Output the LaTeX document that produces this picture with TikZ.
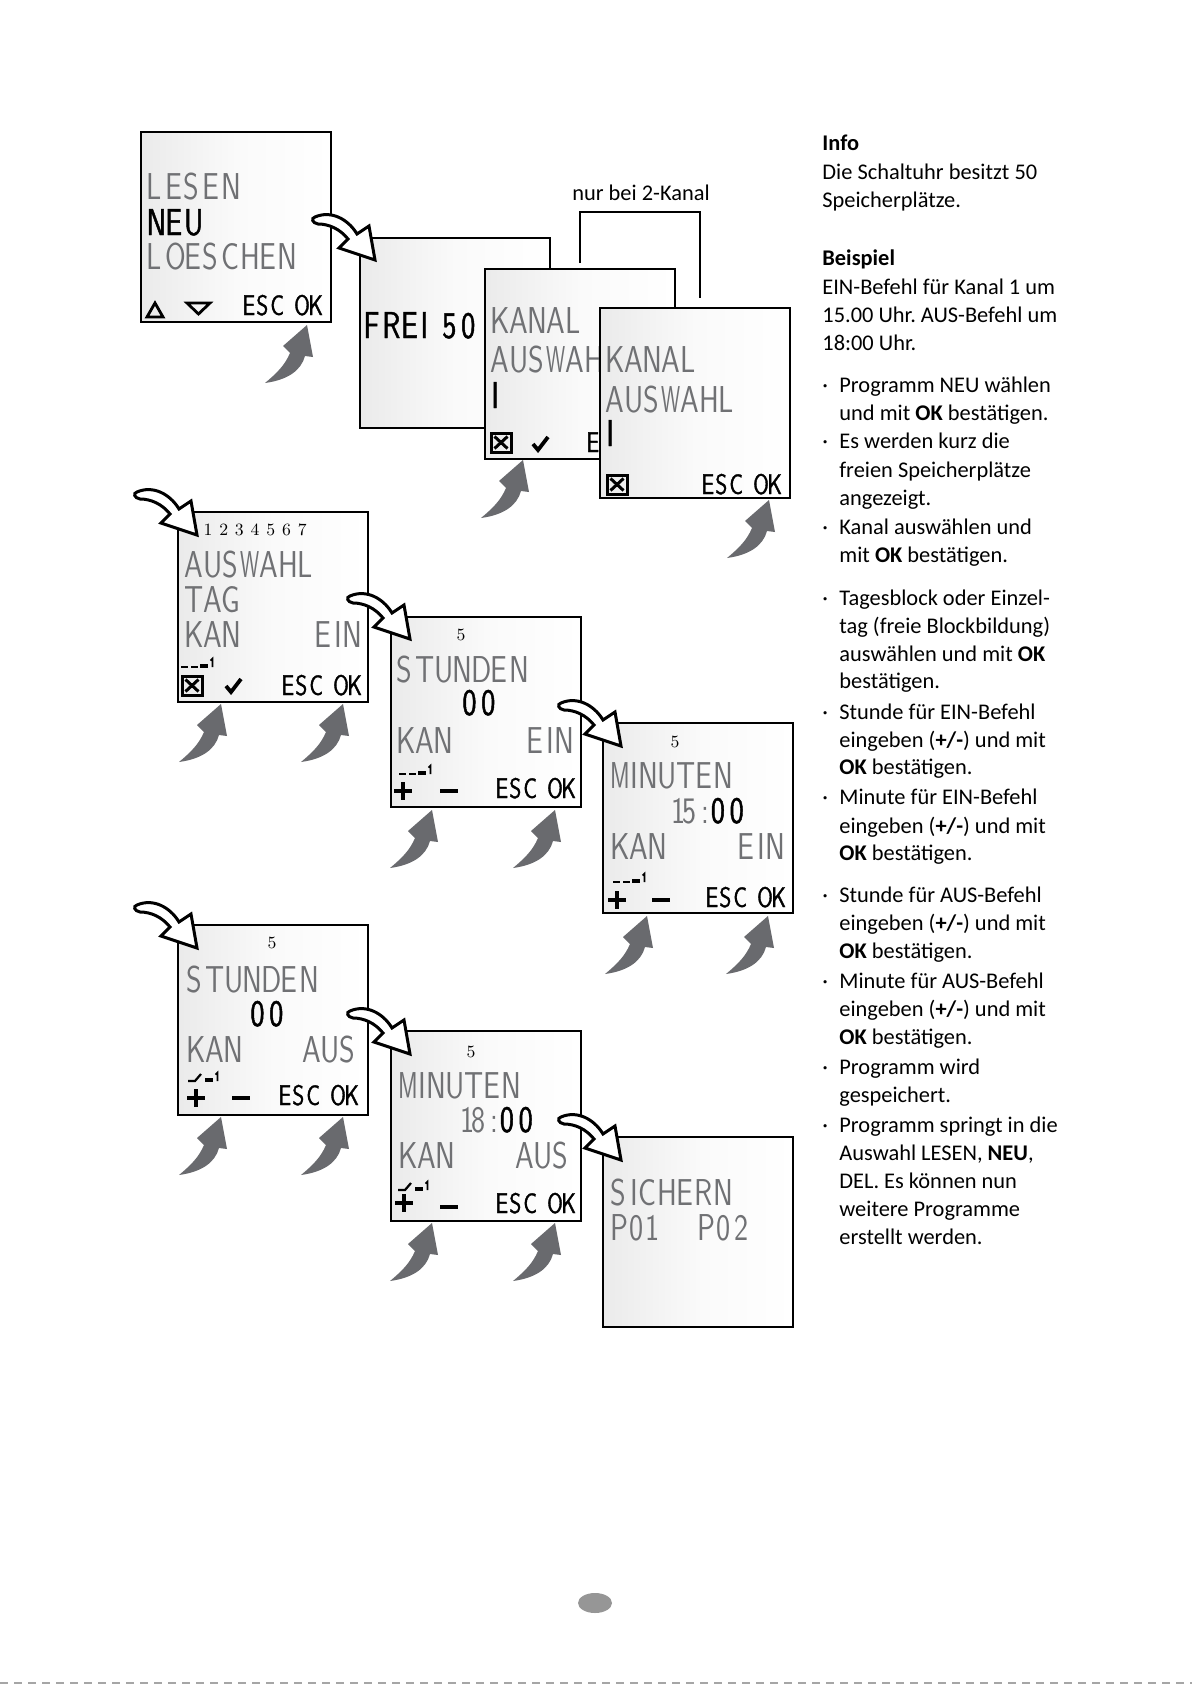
\documentclass[tikz,border=0pt]{standalone}
\usepackage{fontspec}
\usepackage{graphicx}
\setmainfont{Carlito}
\newfontfamily\lcdfont[FakeStretch=0.8]{Latin Modern Sans}
\newfontfamily\lcdbfont[FakeStretch=0.8, FakeBold=1.2]{Latin Modern Sans}
\newfontfamily\digfont{Latin Modern Roman}
\usetikzlibrary{calc}
\definecolor{lcdgray}{RGB}{112,113,116}
\definecolor{arrgray}{RGB}{105,106,110}
\definecolor{pagegray}{RGB}{150,150,150}
\newcommand\lcdsp{}
\ExplSyntaxOn
\dim_new:N \l_lcdcell_dim
\NewDocumentCommand\lcdset{mm}{
  \dim_set:Nn \l_lcdcell_dim {#1}
  \tl_map_inline:nn {#2}{
    \str_case:nnF {##1}{
      {I}{\makebox[0.5\l_lcdcell_dim][c]{##1}}
      {1}{\makebox[0.5\l_lcdcell_dim][c]{##1}}
      {:}{\makebox[0.45\l_lcdcell_dim][l]{##1}}
      {W}{\makebox[\l_lcdcell_dim][l]{\scalebox{0.72}[1]{##1}}}
      {M}{\makebox[\l_lcdcell_dim][l]{\scalebox{0.8}[1]{##1}}}
      {\lcdsp}{\hspace*{0.7\l_lcdcell_dim}}
    }{\makebox[\l_lcdcell_dim][l]{##1}}
  }
}
\ExplSyntaxOff
\newcommand\lcdbig[1]{\lcdset{9.4pt}{#1}}
\newcommand\lcdsmall[1]{\lcdset{7pt}{#1}}
\tikzset{
  lcd/.style={draw=black, line width=0.7pt, minimum width=95pt, minimum height=95pt,
    inner sep=0pt, outer sep=0pt, anchor=north west,
    left color=black!8, right color=white, middle color=black!2},
  big/.style={font=\lcdfont\fontsize{18.7}{18.7}\selectfont, text=lcdgray, inner sep=0pt, anchor=base west},
  bigk/.style={big, font=\lcdbfont\fontsize{18.7}{18.7}\selectfont, text=black},
  bige/.style={big, anchor=base east},
  small/.style={font=\lcdbfont\fontsize{14.2}{14.2}\selectfont, text=black, inner sep=0pt, anchor=base west},
  day/.style={font=\digfont\fontsize{8.6}{8.6}\selectfont, inner sep=0pt, anchor=base},
  txt/.style={font=\fontsize{11.2}{14}\selectfont, inner sep=0pt, anchor=base west},
  sym/.style={line width=1.4pt, line join=miter},
  harrow/.pic={\draw[line width=1.5pt, line join=miter, fill=white]
      (-60,-43) .. controls (-44,-50) and (-27,-41) .. (-18,-26) -- (-6,-34) -- (0,0)
      -- (-36,-12) -- (-27,-21) .. controls (-35,-31) and (-46,-36) .. (-57,-36)
      .. controls (-63,-37) and (-64,-42) .. (-60,-43) -- cycle;},
  garrow/.pic={\fill[arrgray] (0,0) -- (6,32) -- (-2,31) .. controls (-6,46) and (-20,55) .. (-42,58)
      .. controls (-30,48) and (-22,40) .. (-17,28) -- (-24,21) -- cycle;},
  xbox/.pic={\draw[line width=1.5pt] (0,0) rectangle (20,19);
      \draw[line width=1.5pt] (3.5,3.5) -- (16.5,15.5) (16.5,3.5) -- (3.5,15.5);},
  check/.pic={\draw[line width=1.9pt, line join=miter] (0,7) -- (5,13) -- (15,0);},
  plussym/.pic={\draw[line width=2pt] (0,9) -- (18,9) (9,0) -- (9,18);},
  minussym/.pic={\draw[line width=2pt] (0,0) -- (18,0);},
  einsw/.pic={\draw[line width=1.1pt] (0,9) -- (7,9) (10,9) -- (17,9);
      \fill (19,5.5) rectangle (27,10);
      \draw[line width=0.8pt] (29.5,2.5) -- (31.5,0.5) -- (31.5,9);},
  aussw/.pic={\draw[line width=1.1pt] (0,9) -- (7,9) -- (13,2);
      \fill (17,5.5) rectangle (25,10);
      \draw[line width=0.8pt] (27.5,2.5) -- (29.5,0.5) -- (29.5,9);},
}
\newcommand\txtline[3]{\node[txt] (#1) at (822,#2) {#3};}
\newcommand\bulline[3]{\node[txt] (#1d) at (822,#2) {·}; \node[txt] (#1) at (839,#2) {#3};}
\newcommand\contline[3]{\node[txt] (#1) at (839,#2) {#3};}
\frenchspacing
\begin{document}
\begin{tikzpicture}[x=0.5pt, y=-0.5pt]
\fill[white] (0,0) rectangle (1192,1685);
\useasboundingbox (0,0) rectangle (1192,1685);

% ---------- screens ----------
\node[lcd] (b1) at (141,132) {};
\node[lcd] (b2) at (360,238) {};
\begin{scope}[shift={(b1.north west)}]
  \node[big] (l1a) at (5,67) {\lcdbig{LESEN}};
  \node[bigk] (l1b) at (5,103) {\lcdbig{NEU}};
  \node[big] (l1c) at (5,138) {\lcdbig{LOESCHEN}};
  \draw[sym] (6,185) -- (22,185) -- (14,171) -- cycle;
  \draw[sym] (46,171) -- (69,171) -- (57.5,182) -- cycle;
  \node[small] (l1d) at (101,183) {\lcdsmall{ESC\lcdsp OK}};
\end{scope}
\begin{scope}[shift={(b2.north west)}]
  \node[bigk] (l2a) at (3,100) {\lcdbig{FREI\lcdsp 50}};
\end{scope}

\node[lcd] (b3) at (485,269) {};
\begin{scope}[shift={(b3.north west)}]
  \node[big] (l3a) at (5,64) {\lcdbig{KANAL}};
  \node[big] (l3b) at (5,103) {\lcdbig{AUSWAHL}};
  \node[bigk] (l3c) at (5,139) {\lcdbig{I}};
  \pic at (6,164) {xbox};
  \pic at (48,168) {check};
  \node[small] (l3d) at (101,183) {\lcdsmall{ESC\lcdsp OK}};
\end{scope}

\node[lcd] (b4) at (600,308) {};
\begin{scope}[shift={(b4.north west)}]
  \node[big] (l4a) at (5,64) {\lcdbig{KANAL}};
  \node[big] (l4b) at (5,104) {\lcdbig{AUSWAHL}};
  \node[bigk] (l4c) at (5,138) {\lcdbig{I}};
  \pic at (7,167) {xbox};
  \node[small] (l4d) at (101,186) {\lcdsmall{ESC\lcdsp OK}};
\end{scope}

\node[lcd] (b5) at (178,512) {};
\begin{scope}[shift={(b5.north west)}]
  \foreach \d [count=\i from 0] in {1,...,7}
    \node[day] (d5\d) at (30+15.7*\i,23) {\d};
  \node[big] (l5a) at (6,65) {\lcdbig{AUSWAHL}};
  \node[big] (l5b) at (6,100) {\lcdbig{TAG}};
  \node[big] (l5c) at (6,135) {\lcdbig{KAN}};
  \node[bige] (l5d) at (184,135) {\lcdbig{EIN}};
  \pic at (3,146) {einsw};
  \pic at (4,164) {xbox};
  \pic at (48,167) {check};
  \node[small] (l5e) at (103,183) {\lcdsmall{ESC\lcdsp OK}};
\end{scope}

\node[lcd] (b6) at (391,617) {};
\begin{scope}[shift={(b6.north west)}]
  \node[day] (d6) at (70,23) {5};
  \node[big] (l6a) at (5,65) {\lcdbig{STUNDEN}};
  \node[bigk] (l6b) at (71,98) {\lcdbig{00}};
  \node[big] (l6c) at (5,136) {\lcdbig{KAN}};
  \node[bige] (l6d) at (183,136) {\lcdbig{EIN}};
  \pic at (8,148) {einsw};
  \pic at (3,165) {plussym};
  \pic at (49,174) {minussym};
  \node[small] (l6e) at (104,181) {\lcdsmall{ESC\lcdsp OK}};
\end{scope}

\node[lcd] (b7) at (603,723) {};
\begin{scope}[shift={(b7.north west)}]
  \node[day] (d7) at (72,24) {5};
  \node[big] (l7a) at (7,65) {\lcdbig{MINUTEN}};
  \node[big] (l7b) at (70,100) {\lcdbig{15:}};
  \node[bigk] (l7c) at (l7b.base east) {\lcdbig{00}};
  \node[big] (l7d) at (7,136) {\lcdbig{KAN}};
  \node[bige] (l7e) at (182,136) {\lcdbig{EIN}};
  \pic at (10,150) {einsw};
  \pic at (5,168) {plussym};
  \pic at (49,177) {minussym};
  \node[small] (l7f) at (102,184) {\lcdsmall{ESC\lcdsp OK}};
\end{scope}

\node[lcd] (b8) at (178,925) {};
\begin{scope}[shift={(b8.north west)}]
  \node[day] (d8) at (94,23) {5};
  \node[big] (l8a) at (8,67) {\lcdbig{STUNDEN}};
  \node[bigk] (l8b) at (72,101) {\lcdbig{00}};
  \node[big] (l8c) at (8,137) {\lcdbig{KAN}};
  \node[bige] (l8d) at (181,137) {\lcdbig{AUS}};
  \pic at (10,147) {aussw};
  \pic at (9,164) {plussym};
  \pic at (54,173) {minussym};
  \node[small] (l8e) at (100,180) {\lcdsmall{ESC\lcdsp OK}};
\end{scope}

\node[lcd] (b9) at (391,1031) {};
\begin{scope}[shift={(b9.north west)}]
  \node[day] (d9) at (80,26) {5};
  \node[big] (l9a) at (7,67) {\lcdbig{MINUTEN}};
  \node[big] (l9b) at (71,101) {\lcdbig{18:}};
  \node[bigk] (l9c) at (l9b.base east) {\lcdbig{00}};
  \node[big] (l9d) at (7,137) {\lcdbig{KAN}};
  \node[bige] (l9e) at (181,137) {\lcdbig{AUS}};
  \pic at (7,150) {aussw};
  \pic at (4,163) {plussym};
  \pic at (49,176) {minussym};
  \node[small] (l9f) at (104,182) {\lcdsmall{ESC\lcdsp OK}};
\end{scope}

\node[lcd] (b10) at (603,1137) {};
\begin{scope}[shift={(b10.north west)}]
  \node[big] (l10a) at (7,68) {\lcdbig{SICHERN}};
  \node[big] (l10b) at (7,103) {\lcdbig{P01}};
  \node[big] (l10c) at (94,103) {\lcdbig{P02}};
\end{scope}

% ---------- bracket ----------
\node[txt, anchor=base] (kan2) at (641,201) {nur bei 2-Kanal};
\draw[line width=0.6pt] ($(b3.north)+(0,-6)$) -- ($(b3.north)+(0,-57)$) -| ($(b4.north)+(5,-10)$);

% ---------- transition arrows ----------
\pic at ($(b2.north west)+(15,22)$) {harrow};
\pic at ($(b5.north west)+(19,23)$) {harrow};
\pic at ($(b6.north west)+(19,22)$) {harrow};
\pic at ($(b7.north west)+(18,23)$) {harrow};
\pic at ($(b8.north west)+(19,23)$) {harrow};
\pic at ($(b9.north west)+(19,23)$) {harrow};
\pic at ($(b10.north west)+(18,23)$) {harrow};

% ---------- key press arrows ----------
\pic at ($(b1.north west)+(166,193)$) {garrow};
\pic at ($(b3.north west)+(38,191)$) {garrow};
\pic at ($(b4.north west)+(169,192)$) {garrow};
\pic at ($(b5.north west)+(43,192)$) {garrow};
\pic at ($(b5.north west)+(165,192)$) {garrow};
\pic at ($(b6.north west)+(41,193)$) {garrow};
\pic at ($(b6.north west)+(164,193)$) {garrow};
\pic at ($(b7.north west)+(44,193)$) {garrow};
\pic at ($(b7.north west)+(165,193)$) {garrow};
\pic at ($(b8.north west)+(43,192)$) {garrow};
\pic at ($(b8.north west)+(165,192)$) {garrow};
\pic at ($(b9.north west)+(41,192)$) {garrow};
\pic at ($(b9.north west)+(164,192)$) {garrow};

% ---------- text column ----------
\txtline{t1}{151}{\textbf{Info}}
\txtline{t2}{180}{Die Schaltuhr besitzt 50}
\txtline{t3}{208}{Speicherplätze.}
\txtline{t4}{265}{\textbf{Beispiel}}
\txtline{t5}{294}{EIN-Befehl für Kanal 1 um}
\txtline{t6}{322}{15.00 Uhr. AUS-Befehl um}
\txtline{t7}{350}{18:00 Uhr.}
\bulline{t8}{392}{Programm NEU wählen}
\contline{t9}{420}{und mit \textbf{OK} bestätigen.}
\bulline{t10}{448}{Es werden kurz die}
\contline{t11}{477}{freien Speicherplätze}
\contline{t12}{505}{angezeigt.}
\bulline{t13}{534}{Kanal auswählen und}
\contline{t14}{562}{mit \textbf{OK} bestätigen.}
\bulline{t15}{605}{Tagesblock oder Einzel-}
\contline{t16}{633}{tag (freie Blockbildung)}
\contline{t17}{661}{auswählen und mit \textbf{OK}}
\contline{t18}{688}{bestätigen.}
\bulline{t19}{719}{Stunde für EIN-Befehl}
\contline{t20}{747}{eingeben (\textbf{+/-}) und mit}
\contline{t21}{774}{\textbf{OK} bestätigen.}
\bulline{t22}{804}{Minute für EIN-Befehl}
\contline{t23}{833}{eingeben (\textbf{+/-}) und mit}
\contline{t24}{860}{\textbf{OK} bestätigen.}
\bulline{t25}{902}{Stunde für AUS-Befehl}
\contline{t26}{930}{eingeben (\textbf{+/-}) und mit}
\contline{t27}{958}{\textbf{OK} bestätigen.}
\bulline{t28}{988}{Minute für AUS-Befehl}
\contline{t29}{1016}{eingeben (\textbf{+/-}) und mit}
\contline{t30}{1044}{\textbf{OK} bestätigen.}
\bulline{t31}{1074}{Programm wird}
\contline{t32}{1102}{gespeichert.}
\bulline{t33}{1132}{Programm springt in die}
\contline{t34}{1160}{Auswahl LESEN, \textbf{NEU},}
\contline{t35}{1188}{DEL. Es können nun}
\contline{t36}{1216}{weitere Programme}
\contline{t37}{1244}{erstellt werden.}

% ---------- page marker ----------
\fill[pagegray] (595,1603) ellipse [x radius=17, y radius=10];
\draw[black!35, line width=0.6pt, dash pattern=on 4pt off 3pt] (0,1683) -- (1192,1683);
\end{tikzpicture}
\end{document}
